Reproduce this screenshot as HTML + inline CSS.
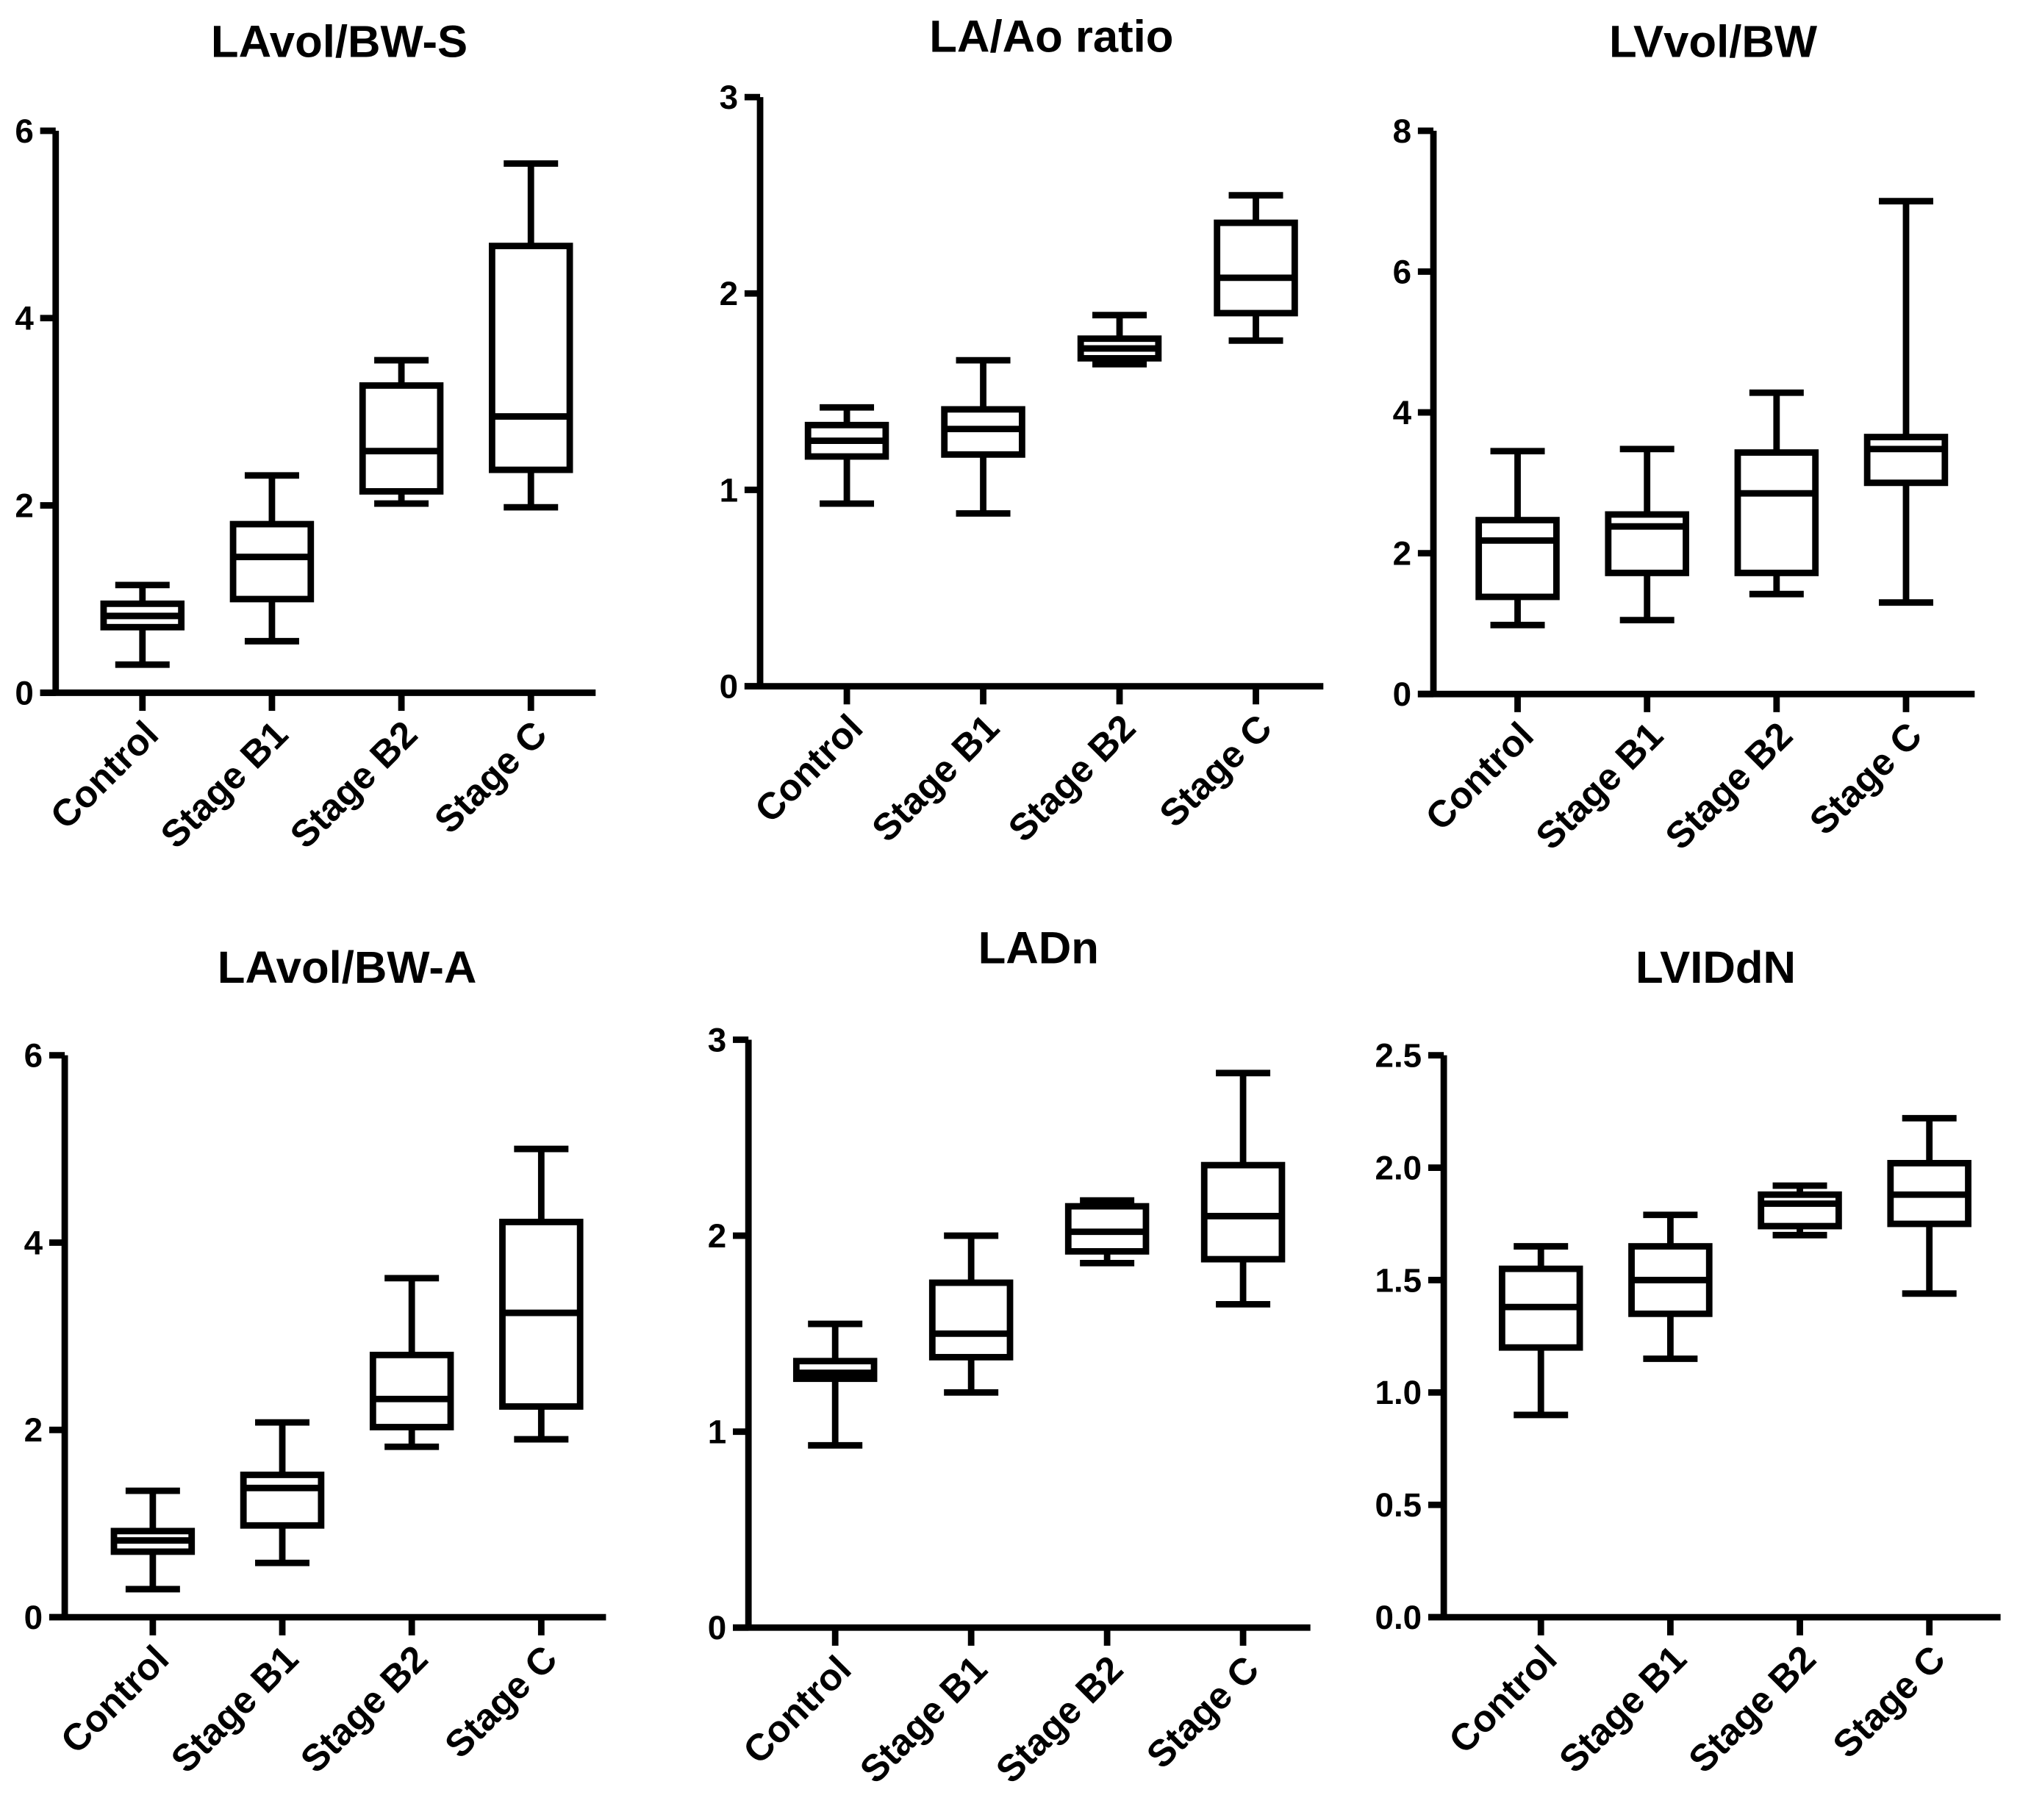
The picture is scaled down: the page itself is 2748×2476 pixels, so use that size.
<!DOCTYPE html>
<html><head><meta charset="utf-8"><style>
html,body{margin:0;padding:0;background:#fff;}
svg{display:block;}
text{font-family:"Liberation Sans",Arial,sans-serif;font-weight:bold;fill:#000;}
</style></head><body>
<svg id="chart" width="2748" height="2476" viewBox="0 0 1560 1405.6" xmlns="http://www.w3.org/2000/svg"></svg>
<script>
const categories = ["Control","Stage B1","Stage B2","Stage C"];
// [whiskerLow, q1, median, q3, whiskerHigh]
const lavolS = [[0.3,0.7,0.82,0.95,1.15],[0.55,1.0,1.45,1.8,2.32],[2.02,2.15,2.58,3.28,3.55],[1.98,2.38,2.95,4.77,5.65]];
const laAo = [[0.93,1.17,1.25,1.33,1.42],[0.88,1.18,1.31,1.41,1.66],[1.64,1.67,1.72,1.77,1.89],[1.76,1.9,2.08,2.36,2.5]];
const lvvol = [[0.98,1.38,2.18,2.47,3.45],[1.05,1.72,2.38,2.55,3.48],[1.42,1.72,2.85,3.43,4.28],[1.3,3.0,3.48,3.65,7.0]];
const lavolA = [[0.3,0.7,0.82,0.92,1.35],[0.58,0.98,1.38,1.52,2.08],[1.82,2.03,2.33,2.8,3.62],[1.9,2.25,3.25,4.22,5.0]];
const ladn = [[0.93,1.27,1.3,1.36,1.55],[1.2,1.38,1.5,1.76,2.0],[1.86,1.92,2.02,2.15,2.18],[1.65,1.88,2.1,2.36,2.83]];
const lviddn = [[0.9,1.2,1.38,1.55,1.65],[1.15,1.35,1.5,1.65,1.79],[1.7,1.74,1.84,1.88,1.92],[1.44,1.75,1.88,2.02,2.22]];
const ticks1 = ["0","2","4","6"], ticks2 = ["0","1","2","3"], ticks3 = ["0","2","4","6","8"];
const ticks6 = ["0.0","0.5","1.0","1.5","2.0","2.5"];

const panels = [
 {name:"lavol-bw-s",title:"LAvol/BW-S",data:lavolS,ticks:ticks1,ax:43,y0:535,y1:101,x0:110,dx:100,xr:460,tx:262,ty:44},
 {name:"la-ao-ratio",title:"LA/Ao ratio",data:laAo,ticks:ticks2,ax:587,y0:530,y1:75,x0:654,dx:105.3,xr:1022,tx:812,ty:40},
 {name:"lvvol-bw",title:"LVvol/BW",data:lvvol,ticks:ticks3,ax:1107,y0:536,y1:101,x0:1172,dx:100,xr:1525,tx:1323,ty:44},
 {name:"lavol-bw-a",title:"LAvol/BW-A",data:lavolA,ticks:ticks1,ax:50,y0:1249,y1:815,x0:118,dx:100,xr:468,tx:268,ty:759},
 {name:"ladn",title:"LADn",data:ladn,ticks:ticks2,ax:578,y0:1257,y1:803,x0:645,dx:105,xr:1012,tx:802,ty:744},
 {name:"lviddn",title:"LVIDdN",data:lviddn,ticks:ticks6,ax:1115,y0:1249,y1:815,x0:1190,dx:100,xr:1545,tx:1325,ty:759}
];
const NS="http://www.w3.org/2000/svg";
const svg=document.getElementById('chart');
function mk(tag,attrs,parent){const e=document.createElementNS(NS,tag);for(const k in attrs)e.setAttribute(k,attrs[k]);(parent||svg).appendChild(e);return e;}
const SW=5;
panels.forEach(p=>{
  const g=mk('g',{});
  
  
  const vmax=parseFloat(p.ticks[p.ticks.length-1]), vmin=parseFloat(p.ticks[0]);
  const y=v=>p.y0-(v-vmin)/(vmax-vmin)*(p.y0-p.y1);
  const x=i=>p.x0+i*p.dx;
  const t=mk('text',{x:p.tx,y:p.ty,'text-anchor':'middle','font-size':35},g);
  t.textContent=p.title;
  
  
  const ya=mk('line',{x1:p.ax,y1:p.y1,x2:p.ax,y2:p.y0,stroke:'#000','stroke-width':SW},g);
  
  
  const xa=mk('line',{x1:p.ax-12,y1:p.y0,x2:p.xr,y2:p.y0,stroke:'#000','stroke-width':SW},g);
  
  
  p.ticks.forEach(tk=>{
    const yy=y(parseFloat(tk));
    mk('line',{x1:p.ax-12,y1:yy,x2:p.ax,y2:yy,stroke:'#000','stroke-width':SW},g);
    const tl=mk('text',{x:p.ax-17,y:yy+9,'text-anchor':'end','font-size':26},g);
    tl.textContent=tk;
    
    
  });
  categories.forEach((c,i)=>{
    const xx=x(i);
    mk('line',{x1:xx,y1:p.y0,x2:xx,y2:p.y0+14,stroke:'#000','stroke-width':SW},g);
    const cl=mk('text',{x:0,y:0,'text-anchor':'end','font-size':29,transform:`translate(${xx+14},${p.y0+34}) rotate(-45)`},g);
    cl.textContent=c;
    
    
    const d=p.data[i], hw=30, cw=21;
    const bg=mk('g',{stroke:'#000','stroke-width':SW,fill:'none'},g);
    
    
    mk('line',{x1:xx,y1:y(d[0]),x2:xx,y2:y(d[1])},bg);
    mk('line',{x1:xx,y1:y(d[3]),x2:xx,y2:y(d[4])},bg);
    mk('line',{x1:xx-cw,y1:y(d[0]),x2:xx+cw,y2:y(d[0])},bg);
    mk('line',{x1:xx-cw,y1:y(d[4]),x2:xx+cw,y2:y(d[4])},bg);
    mk('rect',{x:xx-hw,y:y(d[3]),width:2*hw,height:y(d[1])-y(d[3])},bg);
    mk('line',{x1:xx-hw,y1:y(d[2]),x2:xx+hw,y2:y(d[2])},bg);
  });
});
</script>
</body></html>
